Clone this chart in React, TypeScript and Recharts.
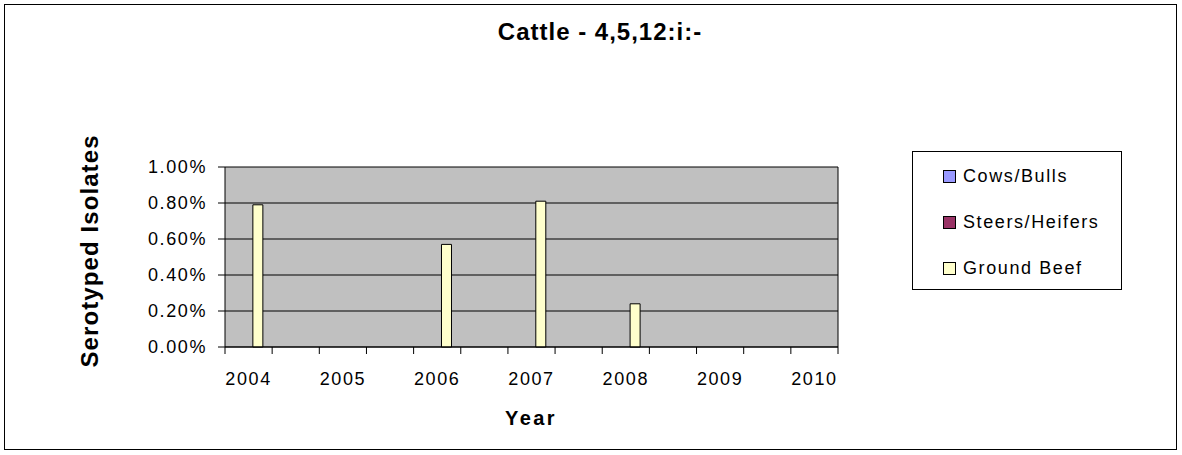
import React from 'react'
import { BarChart, Bar, XAxis, YAxis, CartesianGrid, Legend } from 'recharts'

// 13 slots on the category axis, only every other one carries a year label
const periods = ['2004', '', '2005', '', '2006', '', '2007', '', '2008', '', '2009', '', '2010']
const cowsBulls = [0, 0, 0, 0, 0, 0, 0, 0, 0, 0, 0, 0, 0]
const steersHeifers = [0, 0, 0, 0, 0, 0, 0, 0, 0, 0, 0, 0, 0]
const groundBeef = [0.0079, 0, 0, 0, 0.0057, 0, 0.0081, 0, 0.0024, 0, 0, 0, 0]
const yTicks = [0, 0.002, 0.004, 0.006, 0.008, 0.01]

const series = [
  { key: 'cowsBulls', name: 'Cows/Bulls', color: '#9999FF' },
  { key: 'steersHeifers', name: 'Steers/Heifers', color: '#993366' },
  { key: 'groundBeef', name: 'Ground Beef', color: '#FFFFCC' }
]

const data = periods.map((p, i) => ({
  period: p,
  cowsBulls: cowsBulls[i],
  steersHeifers: steersHeifers[i],
  groundBeef: groundBeef[i]
}))

const W = 1182
const H = 455
const FONT = '"Liberation Sans", Arial, sans-serif'
const PLOT_W = 613

// tick marks sit between categories (Excel style), labels on the category
function YearTick(props: any) {
  const { x, y, payload, index } = props
  const half = payload && payload.offset ? payload.offset : PLOT_W / periods.length / 2
  const last = index === periods.length - 1
  return (
    <g>
      <line x1={x - half} y1={y} x2={x - half} y2={y + 7} stroke="#000" strokeWidth={1} />
      {last && <line x1={x + half} y1={y} x2={x + half} y2={y + 7} stroke="#000" strokeWidth={1} />}
      {payload.value !== '' && (
        <text x={x} y={y + 38} textAnchor="middle" fill="#000" fontSize={18} fontFamily={FONT} style={{ letterSpacing: '1.6px' }}>
          {payload.value}
        </text>
      )}
    </g>
  )
}

function LegendBox() {
  return (
    <div style={{ width: 210, height: 139, border: '1.5px solid #000', boxSizing: 'border-box', position: 'relative', background: '#fff' }}>
      {series.map((s, i) => (
        <div key={s.key} style={{ position: 'absolute', left: 30, top: 12 + i * 46, height: 24, display: 'flex', alignItems: 'center' }}>
          <span style={{ width: 13, height: 13, background: s.color, border: '1px solid #000', boxSizing: 'border-box', display: 'inline-block' }} />
          <span style={{ marginLeft: 7, fontSize: 18, fontFamily: FONT, letterSpacing: '1.6px', color: '#000' }}>{s.name}</span>
        </div>
      ))}
    </div>
  )
}

export default function App() {
  return (
    <div style={{ position: 'absolute', left: 0, top: 0, width: W, height: H, background: '#fff', fontFamily: FONT }}>
      <div style={{ position: 'absolute', left: 4, top: 4, width: 1173, height: 446, border: '1.5px solid #000', boxSizing: 'border-box' }} />
      <BarChart
        width={W}
        height={H}
        data={data}
        margin={{ top: 167, right: 344, bottom: 0, left: 0 }}
        barGap={0}
        barCategoryGap="16.7%"
      >
        <CartesianGrid
          fill="#C0C0C0"
          stroke="#000"
          strokeOpacity={1}
          vertical={true}
          verticalCoordinatesGenerator={({ offset }: any) => [offset.left + offset.width]}
        />
        <XAxis
          dataKey="period"
          height={108}
          interval={0}
          tickSize={0}
          tickMargin={0}
          tickLine={false}
          axisLine={{ stroke: '#000' }}
          tick={<YearTick />}
        />
        <YAxis
          width={225}
          domain={[0, 0.01]}
          ticks={yTicks}
          interval={0}
          tickSize={7}
          tickMargin={11}
          axisLine={{ stroke: '#000' }}
          tickLine={{ stroke: '#000' }}
          tick={{ fill: '#000', fontSize: 18, fontFamily: FONT, style: { letterSpacing: '1.6px' } }}
          tickFormatter={(v: number) => (v * 100).toFixed(2) + '%'}
        />
        <Legend
          layout="vertical"
          align="center"
          verticalAlign="middle"
          wrapperStyle={{ left: 912, top: 151, width: 210, height: 139 }}
          content={() => <LegendBox />}
        />
        {series.map((s) => (
          <Bar key={s.key} dataKey={s.key} name={s.name} fill={s.color} stroke="#000" strokeWidth={1} isAnimationActive={false} />
        ))}
      </BarChart>
      <div style={{ position: 'absolute', left: 0, top: 20, width: 1200, textAlign: 'center', fontSize: 24, fontWeight: 'bold', lineHeight: '24px', letterSpacing: '1px' }}>
        Cattle - 4,5,12:i:-
      </div>
      <div style={{ position: 'absolute', left: 90, top: 251, transform: 'translate(-50%, -50%) rotate(-90deg)', whiteSpace: 'nowrap', fontSize: 24, fontWeight: 'bold', lineHeight: '24px', letterSpacing: '1.1px' }}>
        Serotyped Isolates
      </div>
      <div style={{ position: 'absolute', left: 531, top: 418, transform: 'translate(-50%, -50%)', whiteSpace: 'nowrap', fontSize: 20, fontWeight: 'bold', lineHeight: '20px', letterSpacing: '2.4px' }}>
        Year
      </div>
    </div>
  )
}
